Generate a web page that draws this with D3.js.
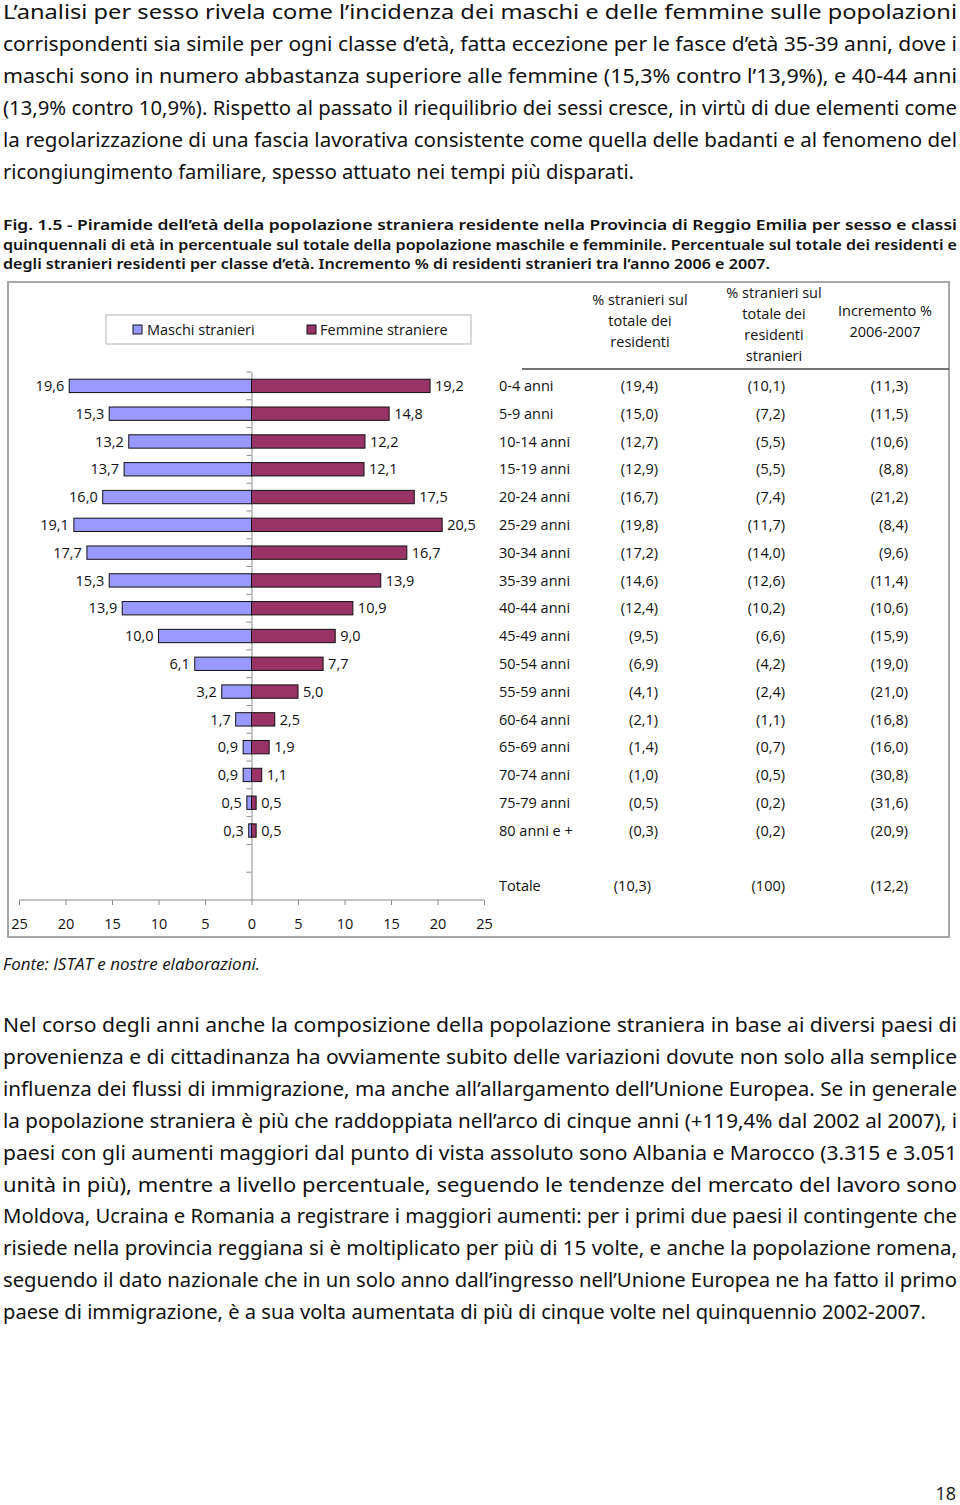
<!DOCTYPE html>
<html>
<head>
<meta charset="utf-8">
<script src="https://cdnjs.cloudflare.com/ajax/libs/d3/7.8.5/d3.min.js"></script>
<style>
  html, body { margin: 0; padding: 0; background: #fff; }
  svg { display: block; }
</style>
</head>
<body>
<svg id="page" width="960" height="1505"></svg>
<script>
// ---------- DATA ----------
const ages = ["0-4 anni","5-9 anni","10-14 anni","15-19 anni","20-24 anni","25-29 anni","30-34 anni","35-39 anni","40-44 anni","45-49 anni","50-54 anni","55-59 anni","60-64 anni","65-69 anni","70-74 anni","75-79 anni","80 anni e +"];
const maschi = [19.6,15.3,13.2,13.7,16.0,19.1,17.7,15.3,13.9,10.0,6.1,3.2,1.7,0.9,0.9,0.5,0.3];
const femmine = [19.2,14.8,12.2,12.1,17.5,20.5,16.7,13.9,10.9,9.0,7.7,5.0,2.5,1.9,1.1,0.5,0.5];
const pctResidenti = [19.4,15.0,12.7,12.9,16.7,19.8,17.2,14.6,12.4,9.5,6.9,4.1,2.1,1.4,1.0,0.5,0.3];
const pctStranieri = [10.1,7.2,5.5,5.5,7.4,11.7,14.0,12.6,10.2,6.6,4.2,2.4,1.1,0.7,0.5,0.2,0.2];
const incremento = [11.3,11.5,10.6,8.8,21.2,8.4,9.6,11.4,10.6,15.9,19.0,21.0,16.8,16.0,30.8,31.6,20.9];
const totaleLabel = "Totale";
const totali = ["(10,3)","(100)","(12,2)"];
const xTicks = [-25,-20,-15,-10,-5,0,5,10,15,20,25];
const seriesNames = ["Maschi stranieri","Femmine straniere"];
const colHeaders = [
  ["% stranieri sul","totale dei","residenti"],
  ["% stranieri sul","totale dei","residenti","stranieri"],
  ["Incremento %","2006-2007"]
];

const para1 = [
  "L\u2019analisi per sesso rivela come l\u2019incidenza dei maschi e delle femmine sulle popolazioni",
  "corrispondenti sia simile per ogni classe d\u2019et\u00e0, fatta eccezione per le fasce d\u2019et\u00e0 35-39 anni, dove i",
  "maschi sono in numero abbastanza superiore alle femmine (15,3% contro l\u201913,9%), e 40-44 anni",
  "(13,9% contro 10,9%). Rispetto al passato il riequilibrio dei sessi cresce, in virt\u00f9 di due elementi come",
  "la regolarizzazione di una fascia lavorativa consistente come quella delle badanti e al fenomeno del",
  "ricongiungimento familiare, spesso attuato nei tempi pi\u00f9 disparati."
];
const caption = [
  "Fig. 1.5 - Piramide dell\u2019et\u00e0 della popolazione straniera residente nella Provincia di Reggio Emilia per sesso e classi",
  "quinquennali di et\u00e0 in percentuale sul totale della popolazione maschile e femminile. Percentuale sul totale dei residenti e",
  "degli stranieri residenti per classe d\u2019et\u00e0. Incremento % di residenti stranieri tra l\u2019anno 2006 e 2007."
];
const para2 = [
  "Nel corso degli anni anche la composizione della popolazione straniera in base ai diversi paesi di",
  "provenienza e di cittadinanza ha ovviamente subito delle variazioni dovute non solo alla semplice",
  "influenza dei flussi di immigrazione, ma anche all\u2019allargamento dell\u2019Unione Europea. Se in generale",
  "la popolazione straniera \u00e8 pi\u00f9 che raddoppiata nell\u2019arco di cinque anni (+119,4% dal 2002 al 2007), i",
  "paesi con gli aumenti maggiori dal punto di vista assoluto sono Albania e Marocco (3.315 e 3.051",
  "unit\u00e0 in pi\u00f9), mentre a livello percentuale, seguendo le tendenze del mercato del lavoro sono",
  "Moldova, Ucraina e Romania a registrare i maggiori aumenti: per i primi due paesi il contingente che",
  "risiede nella provincia reggiana si \u00e8 moltiplicato per pi\u00f9 di 15 volte, e anche la popolazione romena,",
  "seguendo il dato nazionale che in un solo anno dall\u2019ingresso nell\u2019Unione Europea ne ha fatto il primo",
  "paese di immigrazione, \u00e8 a sua volta aumentata di pi\u00f9 di cinque volte nel quinquennio 2002-2007."
];

// ---------- PAGE ----------
const svg = d3.select("#page");
const bodyFont = "'Noto Sans', 'DejaVu Sans', sans-serif";
const chartFont = "'Open Sans', 'Noto Sans', sans-serif";
const FS = 14.5;

function textBlock(lines, opts) {
  const g = svg.append("g");
  lines.forEach((t, i) => {
    const last = i === lines.length - 1;
    const el = g.append("text")
      .attr("x", opts.x)
      .attr("y", opts.y0 + i * opts.lh)
      .attr("font-family", opts.font)
      .attr("font-size", opts.size)
      .attr("font-weight", opts.weight || "normal")
      .attr("font-style", opts.style || "normal")
      .attr("fill", "#111")
      .attr("lengthAdjust", "spacingAndGlyphs")
      .text(t);
    const w = last ? opts.lastWidth : opts.width;
    if (w) el.attr("textLength", w);
  });
}

textBlock(para1, {x: 3, y0: 19, lh: 32, size: 19, font: bodyFont, width: 954, lastWidth: 631});
textBlock(caption, {x: 3, y0: 230, lh: 19.5, size: 15, font: bodyFont, weight: 600, width: 954, lastWidth: 767});
textBlock(para2, {x: 3, y0: 1032, lh: 31.9, size: 19, font: bodyFont, width: 954, lastWidth: 923});

// Fonte
svg.append("text").attr("x", 3).attr("y", 970)
  .attr("font-family", chartFont).attr("font-size", 16).attr("font-style", "italic")
  .attr("fill", "#111").attr("textLength", 257).attr("lengthAdjust", "spacingAndGlyphs")
  .text("Fonte: ISTAT e nostre elaborazioni.");

// page number
svg.append("text").attr("x", 956).attr("y", 1500).attr("text-anchor", "end")
  .attr("font-family", chartFont).attr("font-size", 18).attr("fill", "#111").text("18");

// ---------- CHART ----------
// frame
svg.append("rect").attr("x", 8).attr("y", 282).attr("width", 941).attr("height", 655)
  .attr("fill", "none").attr("stroke", "#a6a6a6").attr("stroke-width", 2);

const x = d3.scaleLinear().domain([-25, 25]).range([19, 484]);
const rows = d3.range(ages.length + 2); // 17 ages + empty + Totale
const y = d3.scaleBand().domain(rows).range([372, 900]).paddingInner(0).paddingOuter(0);
const barH = y.bandwidth() * 0.48;
const fmt = v => d3.format(".1f")(v).replace(".", ",");

const chart = svg.append("g").attr("font-family", chartFont);

// x axis
const xAxis = d3.axisBottom(x).tickValues(xTicks).tickSize(5).tickFormat(d => Math.abs(d));
const gx = chart.append("g").attr("transform", "translate(0,900)").call(xAxis);
gx.select(".domain").attr("stroke", "#8c8c8c").attr("d", "M19,0H484");
gx.selectAll(".tick line").attr("stroke", "#8c8c8c");
gx.selectAll(".tick text").attr("font-size", FS).attr("fill", "#111")
  .attr("y", 24).attr("dy", "0.36em").attr("font-family", chartFont);

// center category axis
const yAxis = d3.axisLeft(y).tickValues([]).tickSize(0);
const gy = chart.append("g").attr("transform", `translate(${x(0)},0)`).call(yAxis);
gy.select(".domain").attr("stroke", "#8c8c8c");
// tick marks at band boundaries
chart.append("g").selectAll("line").data(rows).join("line")
  .attr("x1", x(0) - 5).attr("x2", x(0))
  .attr("y1", d => y(d)).attr("y2", d => y(d))
  .attr("stroke", "#8c8c8c");

const ageIdx = d3.range(ages.length);
// male bars
chart.append("g").selectAll("rect").data(ageIdx).join("rect")
  .attr("x", i => x(-maschi[i]))
  .attr("y", i => y(i) + (y.bandwidth() - barH) / 2)
  .attr("width", i => x(0) - x(-maschi[i]))
  .attr("height", barH)
  .attr("fill", "#9999ff").attr("stroke", "#111").attr("stroke-width", 1);
// female bars
chart.append("g").selectAll("rect").data(ageIdx).join("rect")
  .attr("x", x(0))
  .attr("y", i => y(i) + (y.bandwidth() - barH) / 2)
  .attr("width", i => x(femmine[i]) - x(0))
  .attr("height", barH)
  .attr("fill", "#993366").attr("stroke", "#111").attr("stroke-width", 1);

// bar labels
chart.append("g").selectAll("text").data(ageIdx).join("text")
  .attr("x", i => x(-maschi[i]) - 5)
  .attr("y", i => y(i) + y.bandwidth() / 2)
  .attr("dy", "0.36em").attr("text-anchor", "end")
  .attr("font-size", FS).attr("fill", "#111")
  .text(i => fmt(maschi[i]));
chart.append("g").selectAll("text").data(ageIdx).join("text")
  .attr("x", i => x(femmine[i]) + 5)
  .attr("y", i => y(i) + y.bandwidth() / 2)
  .attr("dy", "0.36em").attr("text-anchor", "start")
  .attr("font-size", FS).attr("fill", "#111")
  .text(i => fmt(femmine[i]));

// legend
const lg = chart.append("g");
lg.append("rect").attr("x", 106).attr("y", 315).attr("width", 365).attr("height", 29)
  .attr("fill", "#fff").attr("stroke", "#b3b3b3").attr("stroke-width", 1);
const legendItems = [
  {name: seriesNames[0], color: "#9999ff", sx: 133, tx: 147},
  {name: seriesNames[1], color: "#993366", sx: 307, tx: 320}
];
legendItems.forEach(it => {
  lg.append("rect").attr("x", it.sx).attr("y", 325).attr("width", 9).attr("height", 9)
    .attr("fill", it.color).attr("stroke", "#111").attr("stroke-width", 1);
  lg.append("text").attr("x", it.tx).attr("y", 330).attr("dy", "0.36em")
    .attr("font-size", FS).attr("fill", "#111").text(it.name);
});

// ---------- TABLE ----------
const tbl = chart.append("g");
const colCenters = [640, 774, 885];
const colRight = [658, 785, 908];
const headerStarts = [300, 293, 311];
colHeaders.forEach((lines, c) => {
  lines.forEach((t, j) => {
    tbl.append("text").attr("x", colCenters[c]).attr("y", headerStarts[c] + j * 21)
      .attr("dy", "0.36em").attr("text-anchor", "middle")
      .attr("font-size", FS).attr("fill", "#111").text(t);
  });
});
tbl.append("line").attr("x1", 522).attr("x2", 949).attr("y1", 369).attr("y2", 369)
  .attr("stroke", "#444").attr("stroke-width", 1.5);

const cols = [pctResidenti, pctStranieri, incremento];
ageIdx.forEach(i => {
  tbl.append("text").attr("x", 499).attr("y", y(i) + y.bandwidth() / 2).attr("dy", "0.36em")
    .attr("font-size", FS).attr("fill", "#111").text(ages[i]);
  cols.forEach((arr, c) => {
    tbl.append("text").attr("x", colRight[c]).attr("y", y(i) + y.bandwidth() / 2).attr("dy", "0.36em")
      .attr("text-anchor", "end").attr("font-size", FS).attr("fill", "#111")
      .text("(" + fmt(arr[i]) + ")");
  });
});
const totRow = ages.length + 1;
tbl.append("text").attr("x", 499).attr("y", y(totRow) + y.bandwidth() / 2).attr("dy", "0.36em")
  .attr("font-size", FS).attr("fill", "#111").text(totaleLabel);
totali.forEach((t, c) => {
  tbl.append("text").attr("x", colRight[c] - (c === 0 ? 7 : 0)).attr("y", y(totRow) + y.bandwidth() / 2)
    .attr("dy", "0.36em").attr("text-anchor", "end").attr("font-size", FS).attr("fill", "#111").text(t);
});
</script>
</body>
</html>
